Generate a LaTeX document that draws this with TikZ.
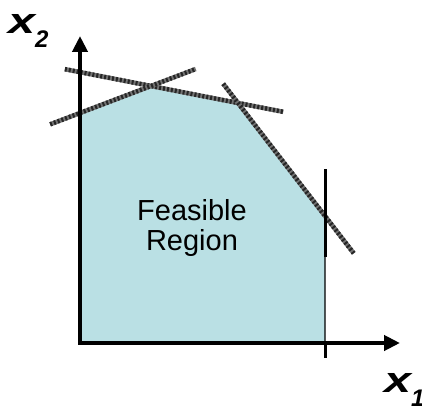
\documentclass[tikz,border=0pt]{standalone}
\usepackage{fontspec}
\setmainfont{Liberation Sans}
\usetikzlibrary{arrows.meta,calc}

\definecolor{regionblue}{RGB}{186,224,228}

\begin{document}
\begin{tikzpicture}[x=1pt,y=-1pt,
 axis/.style={-{Triangle[length=16pt,width=15pt]},line width=4.5pt},
 bound/.style={line width=4.5pt,draw=black!55,
               postaction={draw=black!85,line width=4.5pt,dash pattern=on 2pt off 2pt}},
 edge/.style={line width=1.4pt},
 varlabel/.style={font=\fontsize{36}{36}\selectfont\bfseries\itshape,inner sep=0pt}]
\useasboundingbox (0,0) rectangle (422,406);
% corners of the region
\coordinate (o) at (80,343);
\coordinate (a) at (80,113);
\coordinate (b) at (151,86);
\coordinate (c) at (238,103);
\coordinate (d) at (325,216);
\coordinate (e) at (325,343);
\fill[regionblue] (o)--(a)--(b)--(c)--(d)--(e)--cycle;
\draw[edge] (a)--(b)--(c)--(d)--(e);
% constraint lines
\draw[bound] ($(b)!-0.99!(c)$) -- ($(b)!1.52!(c)$);
\draw[bound] ($(a)!-0.42!(b)$) -- ($(a)!1.63!(b)$);
\draw[bound] ($(c)!-0.17!(d)$) -- ($(c)!1.33!(d)$);
\draw[line width=3pt] ($(d)+(0,-47)$) -- ($(d)+(0,41)$);
\draw[line width=3pt] (e) -- ($(e)+(0,15)$);
% axes
\draw[axis] ($(o)+(-2,0)$) -- (400,343);
\draw[axis] (o) -- (80,36);
\node[varlabel,anchor=base west] (xtwo) at (8,34)
  {\scalebox{1.35}[1]{x}\raisebox{-14pt}{\fontsize{24}{24}\selectfont 2}};
\node[varlabel,anchor=base west] (xone) at (384,392)
  {\scalebox{1.35}[1]{x}\raisebox{-14pt}{\fontsize{24}{24}\selectfont 1}};
\node[font=\fontsize{29}{30}\selectfont,align=center] (feas) at (192,228)
  {Feasible\\Region};
\end{tikzpicture}
\end{document}
